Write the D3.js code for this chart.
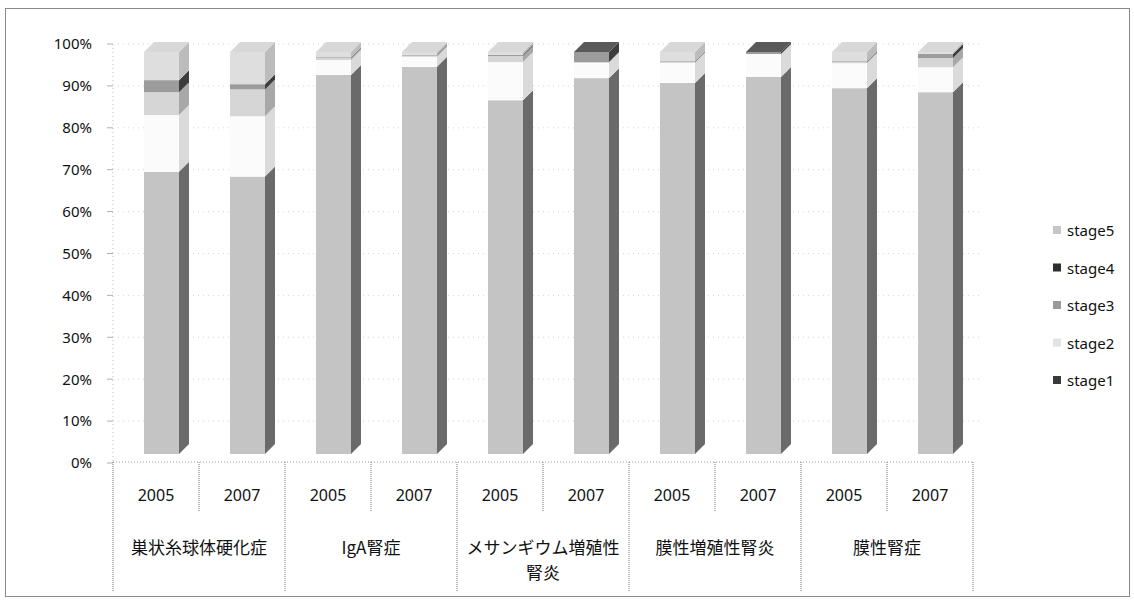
<!DOCTYPE html>
<meta charset="utf-8">
<style type="text/css">
    body { margin: 0; background: #fff; }
    text { font-family: "Noto Sans CJK JP", "Noto Sans", sans-serif; fill: #111; }
</style>
<svg width="1134" height="601"></svg>
<script type="text/javascript" src="https://cdn.jsdelivr.net/npm/d3@7"></script>
<script type="text/javascript">

    // data (percent of each bar)
    const groups = ["巣状糸球体硬化症", "IgA腎症", "メサンギウム増殖性腎炎", "膜性増殖性腎炎", "膜性腎症"];
    const years = ["2005", "2007"];
    const stageKeys = ["stage1", "stage2", "stage3", "stage4", "stage5"];
    const yTicks = [0, 0.1, 0.2, 0.3, 0.4, 0.5, 0.6, 0.7, 0.8, 0.9, 1.0];

    const stage1 = [70.2, 69.0, 94.3, 96.3, 88.0, 93.5, 92.3, 93.8, 91.0, 90.0];
    const stage2 = [14.1, 15.0, 3.7, 2.5, 9.5, 3.8, 5.0, 5.7, 6.2, 6.2];
    const stage3 = [5.7, 6.7, 0.5, 0.3, 1.5, 0.2, 0.2, 0.0, 0.3, 2.3];
    const stage4 = [3.0, 1.3, 0.2, 0.2, 0.3, 2.5, 0.2, 0.5, 0.2, 1.0];
    const stage5 = [7.0, 8.0, 1.3, 0.7, 0.7, 0.0, 2.3, 0.0, 2.3, 0.5];

    // grey tones of the scan: front face, side face, top face, legend swatch
    const shade = {
        stage1: { front: "#c4c4c4", side: "#6a6a6a", top: "#d0d0d0", key: "#3a3a3a" },
        stage2: { front: "#fbfbfb", side: "#dadada", top: "#f0f0f0", key: "#e2e2e2" },
        stage3: { front: "#d6d6d6", side: "#a8a8a8", top: "#cfcfcf", key: "#9a9a9a" },
        stage4: { front: "#9c9c9c", side: "#3c3c3c", top: "#5a5a5a", key: "#2e2e2e" },
        stage5: { front: "#dedede", side: "#bcbcbc", top: "#d8d8d8", key: "#c6c6c6" },
    };

    // one row per bar
    let rows = [];
    let n = 0;
    groups.forEach(function(g) {
        years.forEach(function(y) {
            rows.push({ key: g + "|" + y, group: g, year: y,
                stage1: stage1[n] / 100, stage2: stage2[n] / 100, stage3: stage3[n] / 100,
                stage4: stage4[n] / 100, stage5: stage5[n] / 100 });
            n++;
        });
    });

    var svg = d3.select("svg");

    // chart border
    svg.append("rect")
        .attr("x", 5.5).attr("y", 8.5).attr("width", 1124).attr("height", 588)
        .attr("fill", "none").attr("stroke", "#8a8a8a").attr("stroke-width", 1);

    var x = d3.scaleBand().domain(rows.map(d => d.key)).range([113, 973]).paddingInner(0).paddingOuter(0);
    var yWall = d3.scaleLinear().domain([0, 1]).range([463, 44]);   // back wall (labels, grid)
    var yBar = d3.scaleLinear().domain([0, 1]).range([454, 52]);    // front faces of the columns
    var depthX = 10, depthY = 10, barOffset = 31, barWidth = 35;

    // gridlines on the back wall
    svg.append("g").selectAll("line")
        .data(yTicks.slice(1))
        .enter().append("line")
        .attr("x1", 118).attr("x2", 983)
        .attr("y1", d => yWall(d)).attr("y2", d => yWall(d))
        .attr("stroke", "#d4d4d4").attr("stroke-dasharray", "1,4");

    // y axis
    var yAxis = d3.axisLeft(yWall).tickValues(yTicks).tickFormat(d3.format(".0%")).tickSize(0).tickPadding(0);
    var gy = svg.append("g").attr("transform", "translate(92,0)").call(yAxis);
    gy.select(".domain").remove();
    gy.selectAll("text").style("font-size", "15px").attr("fill", "#111").style("font-family", "'Noto Sans', sans-serif");

    svg.append("line").attr("x1", 113).attr("x2", 113).attr("y1", 44).attr("y2", 463)
        .attr("stroke", "#bdbdbd").attr("stroke-dasharray", "1,3");
    svg.append("g").selectAll("line")
        .data(yTicks)
        .enter().append("line")
        .attr("x1", 107).attr("x2", 113)
        .attr("y1", d => yWall(d)).attr("y2", d => yWall(d))
        .attr("stroke", "#b0b0b0");

    // columns
    var stacked = d3.stack().keys(stageKeys)(rows);
    var barsG = svg.append("g");

    stacked.forEach(function(layer) {
        var k = layer.key;
        layer.forEach(function(seg, i) {
            if (seg[1] - seg[0] <= 0) return;
            var key = rows[i].key;
            var x0 = x(key) + barOffset, x1 = x0 + barWidth;
            var yb = yBar(seg[0]), yt = yBar(seg[1]);
            // front face
            barsG.append("rect")
                .attr("x", x0).attr("y", yt).attr("width", barWidth).attr("height", yb - yt)
                .attr("fill", shade[k].front);
            // side face
            barsG.append("path")
                .attr("d", "M" + x1 + "," + yb + "L" + (x1 + depthX) + "," + (yb - depthY) +
                    "L" + (x1 + depthX) + "," + (yt - depthY) + "L" + x1 + "," + yt + "Z")
                .attr("fill", shade[k].side);
        });
    });

    // top face coloured by the topmost non-empty stage
    rows.forEach(function(r) {
        var topKey = stageKeys.filter(k => r[k] > 0).pop();
        var x0 = x(r.key) + barOffset, x1 = x0 + barWidth, yt = yBar(1);
        barsG.append("path")
            .attr("d", "M" + x0 + "," + yt + "L" + (x0 + depthX) + "," + (yt - depthY) +
                "L" + (x1 + depthX) + "," + (yt - depthY) + "L" + x1 + "," + yt + "Z")
            .attr("fill", shade[topKey].top);
    });

    // category axis
    var axisG = svg.append("g");
    axisG.append("line").attr("x1", 113).attr("x2", 973).attr("y1", 462).attr("y2", 462)
        .attr("stroke", "#9a9a9a").attr("stroke-dasharray", "1,2");

    var edges = rows.map(d => x(d.key)).concat([973]);
    axisG.selectAll("line.div")
        .data(edges)
        .enter().append("line")
        .attr("class", "div")
        .attr("x1", d => d).attr("x2", d => d)
        .attr("y1", 462)
        .attr("y2", (d, i) => i % 2 == 0 ? 592 : 512)
        .attr("stroke", "#7a7a7a").attr("stroke-dasharray", "1,1");

    axisG.selectAll("text.year")
        .data(rows)
        .enter().append("text")
        .attr("class", "year")
        .attr("x", d => x(d.key) + x.bandwidth() / 2)
        .attr("y", 495)
        .attr("text-anchor", "middle").attr("dominant-baseline", "central")
        .style("font-size", "16px").style("font-family", "'Noto Sans', sans-serif")
        .text(d => d.year);

    var groupWidth = x.bandwidth() * years.length;
    groups.forEach(function(g, gi) {
        var cx = 113 + groupWidth * gi + groupWidth / 2;
        var t = axisG.append("text")
            .attr("x", cx).attr("y", 546)
            .attr("text-anchor", "middle").attr("dominant-baseline", "central")
            .style("font-size", "17px");
        // wrap character by character when the label is wider than its group
        var chars = Array.from(g), line = "", lines = [];
        chars.forEach(function(c) {
            t.text(line + c);
            if (t.node().getComputedTextLength() > groupWidth - 16 && line.length > 0) {
                lines.push(line);
                line = c;
            } else {
                line = line + c;
            }
        });
        lines.push(line);
        t.text(null);
        lines.forEach(function(l, li) {
            t.append("tspan").attr("x", cx).attr("y", 546 + li * 25).text(l);
        });
    });

    // legend (stage5 on top)
    var legendKeys = stageKeys.slice().reverse();
    var leg = svg.append("g").selectAll("g")
        .data(legendKeys)
        .enter().append("g")
        .attr("transform", (d, i) => "translate(1053," + (230 + i * 37.5) + ")");
    leg.append("rect").attr("x", 0).attr("y", -4).attr("width", 8).attr("height", 8)
        .attr("fill", d => shade[d].key);
    leg.append("text").attr("x", 14).attr("y", 0).attr("dominant-baseline", "central")
        .style("font-size", "15px").style("font-family", "'Noto Sans', sans-serif")
        .text(d => d);

</script>
